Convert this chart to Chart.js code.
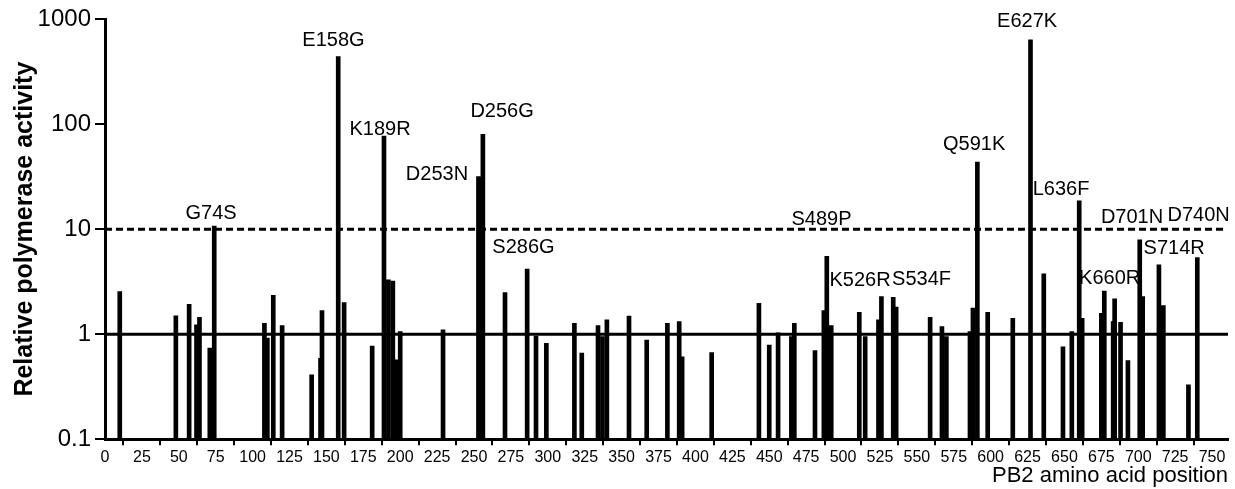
<!DOCTYPE html>
<html>
<head>
<meta charset="utf-8">
<script src="https://cdn.jsdelivr.net/npm/chart.js@4"></script>
<style>
  html, body { margin: 0; padding: 0; background: #fff; }
  #wrap { width: 1235px; height: 489px; }
</style>
</head>
<body>
<div id="wrap"><canvas id="c" width="1235" height="489"></canvas></div>
<script>
// PB2 amino acid positions with a tested mutation
var positions = [10, 48, 57, 62, 64, 71, 74, 108, 110, 114, 120, 140, 146, 147, 158, 162, 181,
  189, 192, 195, 197, 200, 229, 253, 254, 256, 271, 286, 292, 299, 318, 323, 334, 337, 340,
  355, 367, 381, 389, 391, 411, 443, 450, 456, 465, 467, 481, 487, 489, 492, 511, 515, 524,
  526, 534, 536, 559, 567, 570, 586, 588, 591, 598, 615, 627, 636, 649, 655, 660, 662, 675,
  677, 683, 684, 688, 693, 701, 703, 714, 717, 734, 740];

// relative polymerase activity (fold of wild type)
var activity = [2.55, 1.5, 1.93, 1.23, 1.45, 0.74, 10.7, 1.27, 0.92, 2.35, 1.21, 0.41, 0.59, 1.68, 440, 2.0, 0.77,
  77, 3.3, 3.2, 0.57, 1.06, 1.1, 31.7, 31, 80, 2.49, 4.16, 0.96, 0.82, 1.27, 0.66, 1.21, 0.95, 1.37,
  1.49, 0.88, 1.27, 1.32, 0.61, 0.67, 1.97, 0.79, 1.03, 0.95, 1.27, 0.7, 1.68, 5.5, 1.21, 1.62, 0.95, 1.37,
  2.28, 2.25, 1.81, 1.45, 1.18, 0.95, 1.06, 1.77, 43.5, 1.62, 1.42, 635, 3.75, 0.76, 1.06, 18.6, 1.42, 1.58,
  2.58, 1.32, 2.17, 1.3, 0.56, 7.9, 2.28, 4.57, 1.87, 0.33, 5.37];

// labelled mutations and where their text sits (data units)
var mutNames = ['G74S', 'E158G', 'K189R', 'D253N', 'D256G', 'S286G', 'S489P', 'K526R', 'S534F',
  'Q591K', 'E627K', 'L636F', 'K660R', 'D701N', 'S714R', 'D740N'];
var mutLabelX = [71.9, 154.8, 186.3, 224.9, 269, 283.5, 485.4, 511.5, 553.2,
  588.8, 624.7, 647.7, 680.6, 695.8, 724.3, 740.9];
var mutLabelY = [14.1, 621, 88.3, 33.3, 131, 6.64, 12.4, 3.22, 3.33,
  63.5, 953, 23.7, 3.4, 12.9, 6.49, 13.4];

var yTicks = [0.1, 1, 10, 100, 1000];
var xTicks = [0, 25, 50, 75, 100, 125, 150, 175, 200, 225, 250, 275, 300, 325, 350, 375,
  400, 425, 450, 475, 500, 525, 550, 575, 600, 625, 650, 675, 700, 725, 750];
var xMin = 0, xMax = 760.8;
var baseline = 1, threshold = 10;

var FONT = "'Liberation Sans', Arial, sans-serif";

var barData = positions.map(function(p, i) { return { x: p, y: activity[i] }; });

var mutationLabels = {
  id: 'mutationLabels',
  afterDatasetsDraw: function(chart) {
    var ctx = chart.ctx, xs = chart.scales.x, ys = chart.scales.y;
    ctx.save();
    ctx.fillStyle = '#000';
    ctx.font = '20px ' + FONT;
    ctx.textAlign = 'center';
    ctx.textBaseline = 'middle';
    mutNames.forEach(function(n, i) {
      ctx.fillText(n, xs.getPixelForValue(mutLabelX[i]), ys.getPixelForValue(mutLabelY[i]));
    });
    ctx.restore();
  }
};

new Chart(document.getElementById('c'), {
  type: 'bar',
  data: {
    datasets: [
      { type: 'line', data: [{ x: xMin, y: baseline }, { x: xMax, y: baseline }],
        borderColor: '#000', borderWidth: 3, pointRadius: 0, order: 0 },
      { type: 'line', data: [{ x: xMin, y: threshold }, { x: xMax - 1.5, y: threshold }],
        borderColor: '#000', borderWidth: 3, borderDash: [7, 4], pointRadius: 0, order: 0 },
      { type: 'bar', data: barData, backgroundColor: '#000', barThickness: 4, order: 1 }
    ]
  },
  plugins: [mutationLabels],
  options: {
    responsive: false,
    animation: false,
    layout: { padding: { top: 19, right: 7, left: 0, bottom: 0 } },
    plugins: { legend: { display: false }, tooltip: { enabled: false } },
    scales: {
      x: {
        type: 'linear', min: xMin, max: xMax, offset: false,
        grid: { drawOnChartArea: false, color: '#000', lineWidth: 2, tickLength: 6 },
        border: { color: '#000', width: 3 },
        ticks: { color: '#000', padding: 3, maxRotation: 0, autoSkip: false,
          font: { family: FONT, size: 16 } },
        afterBuildTicks: function(s) { s.ticks = xTicks.map(function(v) { return { value: v }; }); },
        afterFit: function(s) { s.height = 49.7; },
        title: { display: true, text: 'PB2 amino acid position', align: 'end', color: '#000',
          font: { family: FONT, size: 22 }, padding: { top: 0, bottom: 0 } }
      },
      y: {
        type: 'logarithmic', min: 0.1, max: 1000,
        grid: { drawOnChartArea: false, color: '#000', lineWidth: 2, tickLength: 10 },
        border: { color: '#000', width: 3 },
        ticks: { color: '#000', padding: 4, font: { family: FONT, size: 24 },
          callback: function(v) { return v < 1 ? '0.1' : String(v); } },
        afterBuildTicks: function(s) { s.ticks = yTicks.map(function(v) { return { value: v }; }); },
        afterFit: function(s) { s.width = 105; },
        title: { display: true, text: 'Relative polymerase activity', color: '#000',
          font: { family: FONT, size: 25, weight: 'bold' }, padding: { top: 10, bottom: 0 } }
      }
    }
  }
});
</script>
</body>
</html>
